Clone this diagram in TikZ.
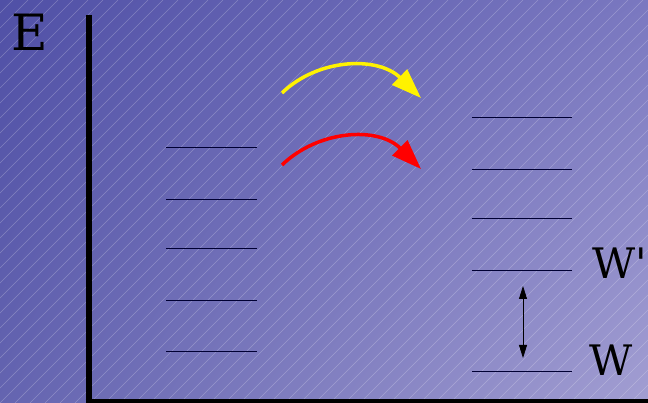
\documentclass[tikz,border=0pt]{standalone}
\usepackage{fontspec}
\setmainfont{DejaVu Serif}
\usetikzlibrary{arrows.meta,shadings}
\definecolor{bgUL}{RGB}{80,80,166}
\definecolor{bgUR}{RGB}{122,120,192}
\definecolor{bgLL}{RGB}{100,100,176}
\definecolor{bgLR}{RGB}{162,158,210}
\begin{document}
\begin{tikzpicture}[x=1pt,y=-1pt,
  level/.style={draw=black!80!blue, line width=0.9pt},
  axis/.style={draw=black, line width=6pt},
  jump/.style={line width=3.5pt, -{Triangle[length=30pt,width=21pt]}},
  gap/.style={draw=black, line width=0.8pt, {Triangle[length=13pt,width=8pt]}-{Triangle[length=13pt,width=8pt]}},
  lbl/.style={inner sep=0pt, anchor=base west}
]
\useasboundingbox (0,0) rectangle (648,403);
\shade[upper left=bgUL, upper right=bgUR, lower left=bgLL, lower right=bgLR]
  (0,0) rectangle (648,403);
\begin{scope}
\clip (0,0) rectangle (648,403);
\foreach \i in {-420,-405,...,660} {
  \draw[white, opacity=0.25, line width=0.5pt] (\i,403) -- (\i+403,0);
}
\end{scope}
% axes
\coordinate (top) at (88.5,15);
\coordinate (orig) at (88.5,401.5);
\coordinate (xend) at (660,401.5);
\draw[axis] (top) -- (orig);
\draw[axis] (85.5,401.5) -- (xend);
\node[lbl] (E) at (11,51) {\fontsize{50}{50}\selectfont E};
% left levels
\foreach \y [count=\k] in {147,199,248,300,351} {
  \coordinate (la\k) at (166,\y);
  \coordinate (lb\k) at (257,\y);
  \draw[level] (la\k) -- (lb\k);
}
% right levels
\foreach \y [count=\k] in {117,169,218,270,371} {
  \coordinate (ra\k) at (472,\y);
  \coordinate (rb\k) at (572,\y);
  \draw[level] (ra\k) -- (rb\k);
}
\node[lbl] (Wp) at (592,279) {\fontsize{42}{42}\selectfont W\textquotesingle};
\node[lbl] (W) at (589,375) {\fontsize{42}{42}\selectfont W};
% gap arrow
\coordinate (ga) at (523,286);
\coordinate (gb) at (523,358);
\draw[gap] (ga) -- (gb);
% transition arrows
\coordinate (ys) at (282,93);
\coordinate (ye) at (421,98);
\coordinate (rs) at (282,165);
\coordinate (re) at (421,169);
\draw[jump, draw=yellow] (ys) .. controls (318,58) and (378,56) .. (ye);
\draw[jump, draw=red] (rs) .. controls (318,130) and (378,126) .. (re);
\end{tikzpicture}
\end{document}
